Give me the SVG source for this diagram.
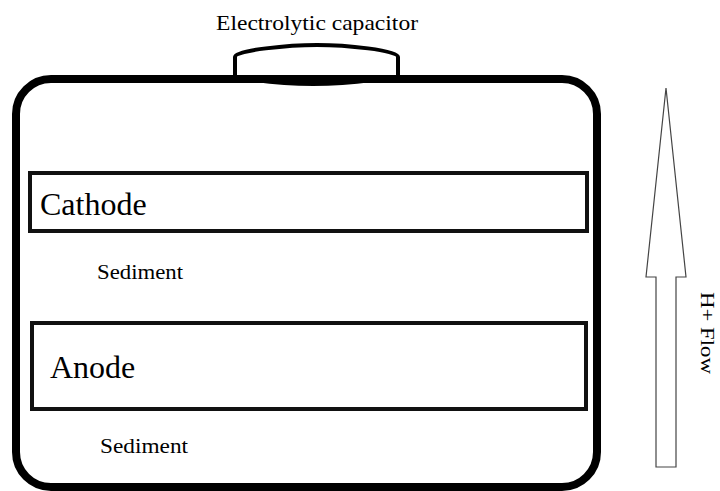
<svg xmlns="http://www.w3.org/2000/svg" width="720" height="491" viewBox="0 0 720 491">
  <style>
    .lbl { font-family: "Liberation Serif", "Times New Roman", serif; fill: #000; }
    .plate { fill: none; stroke: #111; stroke-width: 4; }
  </style>
  <rect width="720" height="491" fill="#fff"/>
  <g id="container">
    <rect x="16" y="79" width="581" height="408" rx="35" ry="35" fill="none" stroke="#000" stroke-width="8"/>
  </g>
  <g id="capacitor">
    <path d="M235,77 L235,57 C235,50 290,45 317,45 C345,45 398,50 398,57 L398,77" fill="none" stroke="#000" stroke-width="4"/>
    <path d="M255,82 Q313,90 372,82 Z" fill="#000"/>
    <text class="lbl" x="317" y="30" font-size="21" text-anchor="middle" textLength="202" lengthAdjust="spacingAndGlyphs">Electrolytic capacitor</text>
  </g>
  <g id="cathode">
    <rect class="plate" x="30" y="173" width="557" height="58"/>
    <text class="lbl" x="40" y="215" font-size="32">Cathode</text>
  </g>
  <g id="sediment1">
    <text class="lbl" x="97" y="279" font-size="20" textLength="86" lengthAdjust="spacingAndGlyphs">Sediment</text>
  </g>
  <g id="anode">
    <rect class="plate" x="32" y="323" width="554" height="86"/>
    <text class="lbl" x="50" y="378" font-size="32">Anode</text>
  </g>
  <g id="sediment2">
    <text class="lbl" x="100" y="453" font-size="20" textLength="88" lengthAdjust="spacingAndGlyphs">Sediment</text>
  </g>
  <g id="connectors">
    <polygon points="666,88 686,277 676,277 676,467 656,467 656,277 646,277" fill="#fff" stroke="#444" stroke-width="1.2"/>
  </g>
  <g id="flow-label">
    <text class="lbl" x="0" y="0" font-size="19" text-anchor="middle" textLength="82" lengthAdjust="spacingAndGlyphs" transform="translate(701,333) rotate(90)">H+ Flow</text>
  </g>
</svg>
